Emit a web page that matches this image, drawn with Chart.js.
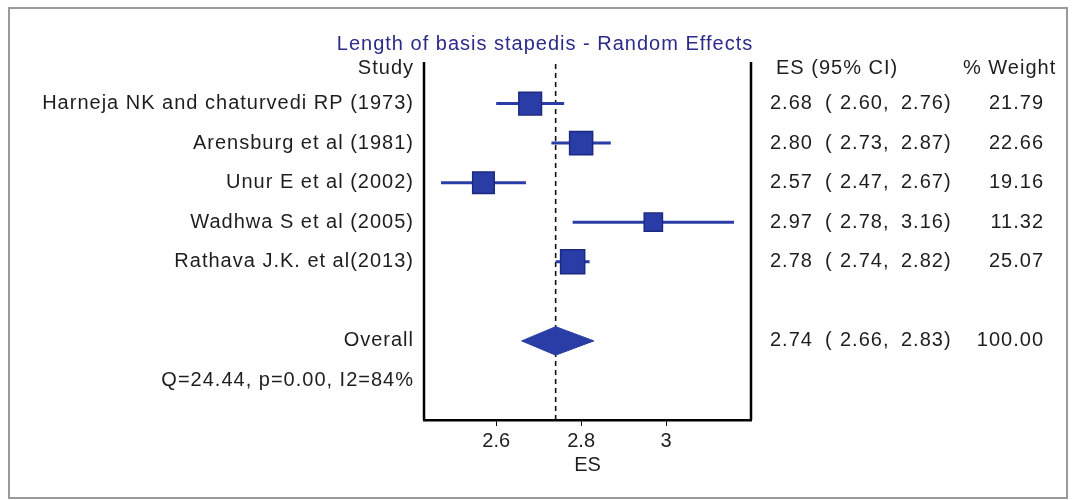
<!DOCTYPE html>
<html>
<head>
<meta charset="utf-8">
<script src="https://cdn.jsdelivr.net/npm/chart.js@4.4.1/dist/chart.umd.min.js"></script>
<style>
  html, body { margin: 0; padding: 0; background: #fff; }
  #wrap { width: 1075px; height: 500px; position: relative; }
</style>
</head>
<body>
<div id="wrap"><canvas id="forest"></canvas></div>
<script>
const TITLE = 'Length of basis stapedis - Random Effects';
const STUDIES = [
  'Harneja NK and chaturvedi RP (1973)',
  'Arensburg et al (1981)',
  'Unur E et al (2002)',
  'Wadhwa S et al (2005)',
  'Rathava J.K. et al(2013)'
];
const ES      = [2.68, 2.80, 2.57, 2.97, 2.78];
const CI_LOW  = [2.60, 2.73, 2.47, 2.78, 2.74];
const CI_HIGH = [2.76, 2.87, 2.67, 3.16, 2.82];
const WEIGHTS = [21.79, 22.66, 19.16, 11.32, 25.07];
const OVERALL_ES = 2.74;
const OVERALL_LOW = 2.66;
const OVERALL_HIGH = 2.83;
const OVERALL_WEIGHT = 100.00;
const HETEROGENEITY = 'Q=24.44, p=0.00, I2=84%';
const X_TICKS = [2.6, 2.8, 3];

const BLUE = '#2a3ca6';
const BLUE_DARK = '#1b2a80';
const TEXT = '#1e1e1e';
const FONT = '"Liberation Sans", Arial, sans-serif';

// row index on the y scale (0 = header line)
const ROWS = STUDIES.map((_, i) => i + 1);
const OVERALL_ROW = 7;
const HET_ROW = 8;

const ciSets = STUDIES.map((s, i) => ({
  label: s,
  data: [{ x: CI_LOW[i], y: ROWS[i] }, { x: CI_HIGH[i], y: ROWS[i] }],
  showLine: true,
  borderColor: BLUE,
  borderWidth: 3,
  pointRadius: 0,
  fill: false
}));

const squares = {
  label: 'ES',
  data: ES.map((v, i) => ({ x: v, y: ROWS[i] })),
  pointStyle: 'rect',
  pointRadius: WEIGHTS.map(w => 9.5 + w * 0.3),
  backgroundColor: BLUE,
  borderColor: BLUE_DARK,
  borderWidth: 1.5
};

const diamondTop = {
  label: 'overall-top',
  data: [
    { x: OVERALL_LOW, y: OVERALL_ROW },
    { x: OVERALL_ES, y: OVERALL_ROW - 0.36 },
    { x: OVERALL_HIGH, y: OVERALL_ROW }
  ],
  showLine: true,
  borderColor: BLUE,
  borderWidth: 1,
  backgroundColor: BLUE,
  pointRadius: 0,
  tension: 0,
  fill: '+1'
};

const diamondBottom = {
  label: 'overall-bottom',
  data: [
    { x: OVERALL_LOW, y: OVERALL_ROW },
    { x: OVERALL_ES, y: OVERALL_ROW + 0.36 },
    { x: OVERALL_HIGH, y: OVERALL_ROW }
  ],
  showLine: true,
  borderColor: BLUE,
  borderWidth: 1,
  pointRadius: 0,
  tension: 0,
  fill: false
};

const refLine = {
  label: 'overall line',
  data: [{ x: OVERALL_ES, y: 0 }, { x: OVERALL_ES, y: 9 }],
  showLine: true,
  borderColor: '#111',
  borderWidth: 1.6,
  borderDash: [5, 4],
  pointRadius: 0,
  fill: false
};

function fmt(v) { return v.toFixed(2); }

const textPlugin = {
  id: 'forestText',
  beforeDraw(chart) {
    const ctx = chart.ctx;
    ctx.save();
    ctx.fillStyle = '#fff';
    ctx.fillRect(0, 0, chart.width, chart.height);
    ctx.strokeStyle = '#9a9a9a';
    ctx.lineWidth = 2;
    ctx.strokeRect(9, 8, 1058, 490);
    ctx.restore();
  },
  afterDraw(chart) {
    const ctx = chart.ctx;
    const area = chart.chartArea;
    const y = chart.scales.y;
    ctx.save();
    // box sides
    ctx.strokeStyle = '#000';
    ctx.lineWidth = 2.5;
    ctx.beginPath();
    ctx.moveTo(area.left, area.top - 2);
    ctx.lineTo(area.left, area.bottom);
    ctx.moveTo(area.right, area.top - 2);
    ctx.lineTo(area.right, area.bottom);
    ctx.stroke();

    ctx.font = '20px ' + FONT;
    ctx.textBaseline = 'middle';
    ctx.letterSpacing = '1px';

    // title
    ctx.fillStyle = '#2b2b8a';
    ctx.textAlign = 'center';
    ctx.fillText(TITLE, 545, area.top - 20);

    ctx.fillStyle = TEXT;
    const labelX = area.left - 10;
    const headY = y.getPixelForValue(0) + 4;
    ctx.textAlign = 'right';
    ctx.fillText('Study', labelX, headY);
    STUDIES.forEach((s, i) => ctx.fillText(s, labelX, y.getPixelForValue(ROWS[i])));
    ctx.fillText('Overall', labelX, y.getPixelForValue(OVERALL_ROW));
    ctx.fillText(HETEROGENEITY, labelX, y.getPixelForValue(HET_ROW));

    ctx.textAlign = 'left';
    ctx.fillText('ES (95% CI)', 776, headY);
    ctx.fillText('% Weight', 963, headY);

    const rowText = (py, e, lo, hi, w) => {
      ctx.textAlign = 'left';
      ctx.fillText(fmt(e), 770, py);
      ctx.fillText('(', 825, py);
      ctx.fillText(fmt(lo) + ',', 840, py);
      ctx.fillText(fmt(hi) + ')', 901, py);
      ctx.textAlign = 'right';
      ctx.fillText(fmt(w), 1044, py);
    };
    ES.forEach((e, i) => rowText(y.getPixelForValue(ROWS[i]), e, CI_LOW[i], CI_HIGH[i], WEIGHTS[i]));
    rowText(y.getPixelForValue(OVERALL_ROW), OVERALL_ES, OVERALL_LOW, OVERALL_HIGH, OVERALL_WEIGHT);
    ctx.restore();
  }
};

new Chart(document.getElementById('forest').getContext('2d'), {
  type: 'scatter',
  data: { datasets: [squares, diamondTop, diamondBottom, ...ciSets, refLine] },
  options: {
    responsive: true,
    maintainAspectRatio: false,
    animation: false,
    layout: { padding: { left: 424, right: 324, top: 64, bottom: 0 } },
    plugins: {
      legend: { display: false },
      tooltip: { enabled: false },
      title: { display: false }
    },
    scales: {
      x: {
        type: 'linear',
        min: 2.43,
        max: 3.2,
        afterBuildTicks: s => { s.ticks = X_TICKS.map(v => ({ value: v })); },
        afterFit: s => { s.height = 80; },
        grid: { drawOnChartArea: false, drawTicks: true, tickLength: 6, color: '#000', lineWidth: 1 },
        border: { display: true, color: '#000', width: 2.5 },
        ticks: {
          color: TEXT,
          padding: 3,
          font: { family: FONT, size: 20 },
          callback: v => String(v)
        },
        title: {
          display: true,
          text: 'ES',
          color: TEXT,
          font: { family: FONT, size: 20 },
          padding: { top: 0, bottom: 23 }
        }
      },
      y: {
        type: 'linear',
        display: false,
        min: 0,
        max: 9,
        reverse: true
      }
    }
  },
  plugins: [textPlugin]
});
</script>
</body>
</html>
